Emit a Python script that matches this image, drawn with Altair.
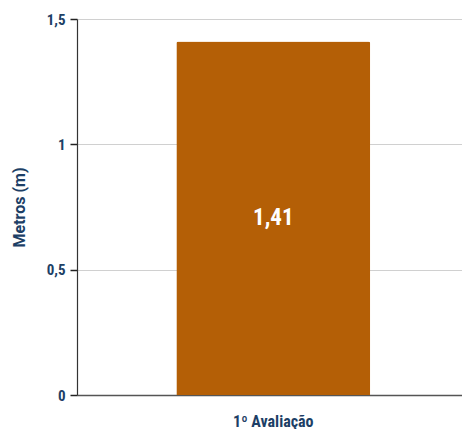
import altair as alt
import pandas as pd

categories = ["1º Avaliação"]
values = [1.41]
labels = ["1,41"]

df = pd.DataFrame({"cat": categories, "val": values, "lbl": labels})

navy = "#1d3f66"
cond = "Roboto Condensed, DejaVu Sans Condensed, Roboto"

base = alt.Chart(df).encode(
    x=alt.X("cat:N", title=None,
            scale=alt.Scale(paddingInner=0.33, paddingOuter=0.33, align=0.52),
            axis=alt.Axis(labelAngle=0, ticks=False, labelPadding=18,
                          labelFont=cond, labelFontSize=16, labelFontWeight="bold",
                          labelColor=navy, domainColor="#555555", domainWidth=1.5,
                          grid=False))
)

bars = base.mark_bar(color="#b45f06", cornerRadiusTopLeft=2, cornerRadiusTopRight=2).encode(
    y=alt.Y("val:Q", title="Metros (m)",
            scale=alt.Scale(domain=[0, 1.5], nice=False),
            axis=alt.Axis(values=[0, 0.5, 1, 1.5],
                          labelExpr="replace(format(datum.value, '~g'), '.', ',')",
                          labelFont=cond, labelFontSize=15, labelFontWeight="bold",
                          labelColor=navy, labelPadding=5,
                          tickSize=7, tickColor="#222222", tickWidth=1.5,
                          domainColor="#333333", domainWidth=1.2,
                          gridColor="#d0d0d0", gridWidth=1,
                          titleFont="Roboto", titleFontSize=16, titleFontWeight="bold",
                          titleColor=navy, titlePadding=19))
)

text = base.transform_calculate(mid="datum.val / 2").mark_text(
    color="white", font=cond, fontSize=23, fontWeight="bold", baseline="middle"
).encode(
    y=alt.Y("mid:Q"),
    text="lbl:N"
)

chart = (bars + text).properties(
    width=454, height=421,
    autosize=alt.AutoSizeParams(type="fit", contains="padding"),
    padding={"left": 3, "top": 4, "right": 0, "bottom": 0}
).configure_view(stroke=None)

chart.save("out.html", embed_options={"renderer": "svg", "actions": False})
